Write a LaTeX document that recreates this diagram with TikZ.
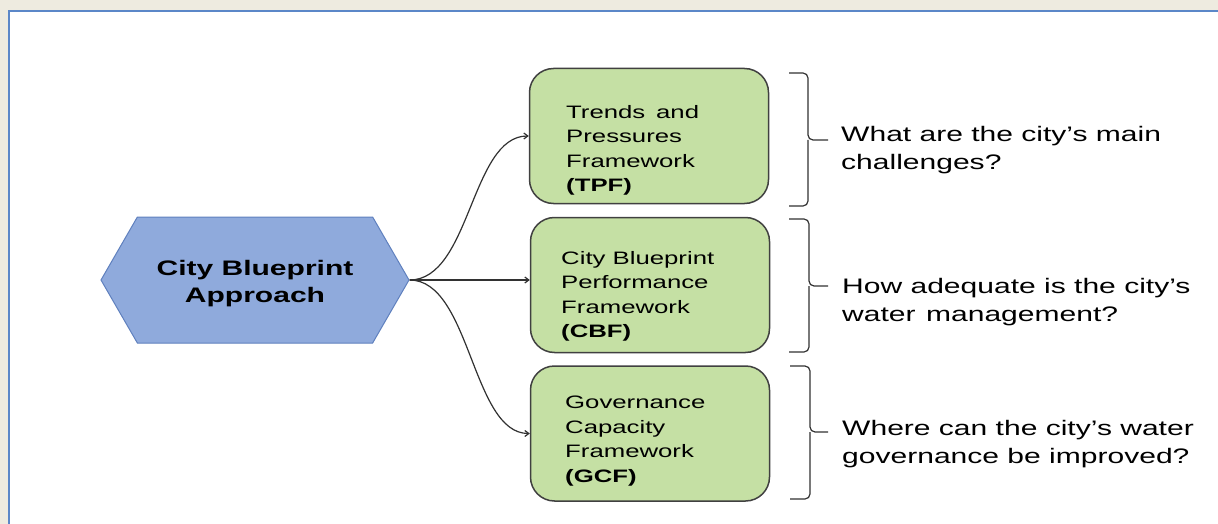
\documentclass[tikz,border=0pt]{standalone}
\usepackage{fontspec}
\setmainfont[FakeStretch=1.43]{Liberation Sans}
\usetikzlibrary{arrows.meta,shapes.symbols}
\definecolor{bgbeige}{RGB}{238,235,224}
\definecolor{framebl}{RGB}{91,135,200}
\definecolor{hexfill}{RGB}{143,170,220}
\definecolor{hexline}{RGB}{95,128,190}
\definecolor{boxfill}{RGB}{197,224,164}
\definecolor{boxline}{RGB}{64,64,64}
\definecolor{conn}{RGB}{50,50,50}
\begin{document}
\begin{tikzpicture}[x=1pt,y=-1pt,
  hexa/.style={signal, signal to=east and west, signal pointer angle=120,
    minimum width=308pt, minimum height=126pt, inner sep=0pt,
    fill=hexfill, draw=hexline, line width=1pt, align=center,
    font=\fontsize{21}{27}\selectfont\bfseries},
  fbox/.style={draw=boxline, fill=boxfill, line width=1.5pt, rounded corners=24pt,
    minimum width=239pt, minimum height=135pt, inner sep=0pt},
  boxtxt/.style={anchor=north west, inner sep=0pt, align=left,
    font=\fontsize{18}{24.5}\selectfont},
  qtxt/.style={anchor=north west, inner sep=0pt, align=left,
    font=\fontsize{21}{28}\selectfont},
  arr/.style={draw=conn, line width=1.2pt, -{Straight Barb[length=4pt,width=6pt]}},
  brc/.style={draw=conn, line width=1.2pt, rounded corners=5pt}]
\useasboundingbox (0,0) rectangle (1218,524);
\fill[bgbeige] (0,0) rectangle (1218,524);
\draw[framebl, line width=2.6pt, fill=white] (9,11) rectangle (1240,545);

\node[hexa] (hex) at (255,280) {\rule{0pt}{23pt}City Blueprint\\Approach};

\node[fbox] (tpf) at (649,136) {};
\node[fbox] (cbf) at (650,285) {};
\node[fbox] (gcf) at (650,433.5) {};

\node[boxtxt] (tpft) at (566,105) {Trends\hspace{0.6em}and\\Pressures\\Framework\\\textbf{(TPF)}};
\node[boxtxt] (cbft) at (561,251) {City Blueprint\\Performance\\Framework\\\textbf{(CBF)}};
\node[boxtxt] (gcft) at (565,396) {Governance\\Capacity\\Framework\\\textbf{(GCF)}};

\draw[arr] (hex.east) .. controls +(61,0) and +(-58,0) .. (tpf.west);
\draw[arr] (hex.east) -- (hex.east -| cbf.west);
\draw[arr] (hex.east) .. controls +(61,0) and +(-58,0) .. (gcf.west);

\draw[brc] (789,73) -- (808,73) -- (808,140) -- (828,140);
\draw[brc] (789,206) -- (808,206) -- (808,140);
\draw[brc] (789,219) -- (809,219) -- (809,286) -- (828,286);
\draw[brc] (789,352) -- (809,352) -- (809,286);
\draw[brc] (790,366) -- (810,366) -- (810,432) -- (828,432);
\draw[brc] (790,499) -- (810,499) -- (810,432);

\node[qtxt] (q1) at (841,126.5) {What are the city’s main\\challenges?};
\node[qtxt] (q2) at (842,278.5) {How adequate is the city’s\\water\hspace{0.5em}management?};
\node[qtxt] (q3) at (842,420.5) {Where can the city’s water\\governance\hspace{0.4em}be improved?};
\end{tikzpicture}
\end{document}
